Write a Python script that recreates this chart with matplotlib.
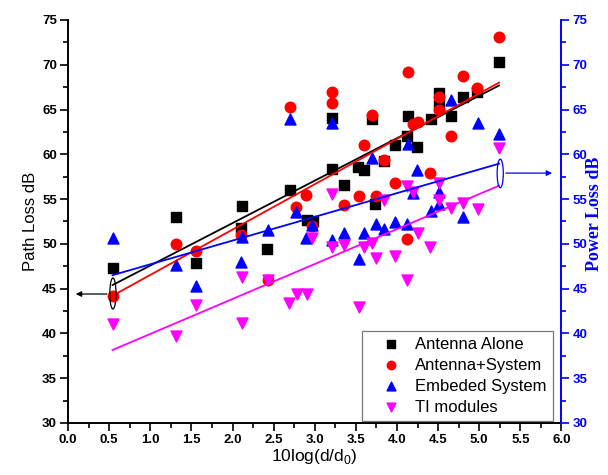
import matplotlib
matplotlib.use("Agg")
import matplotlib.pyplot as plt
from matplotlib.patches import Ellipse
from matplotlib.ticker import MultipleLocator
import numpy as np

plt.rcParams['font.family'] = ['Liberation Sans', 'DejaVu Sans']
plt.rcParams['mathtext.fontset'] = 'custom'
plt.rcParams['mathtext.rm'] = 'Liberation Sans'

# ---- measured data: x = 10log(d/d0), y = loss in dB ----
antenna_x = [0.54, 1.31, 1.55, 2.12, 2.10, 2.42, 2.70, 2.90, 2.98, 3.21, 3.21, 3.35, 3.53, 3.60,
             3.69, 3.73, 3.84, 3.97, 4.12, 4.13, 4.24, 4.41, 4.51, 4.51, 4.66, 4.80, 4.97, 5.24]
antenna_y = [47.3, 53.0, 47.9, 54.2, 51.8, 49.4, 56.0, 52.7, 52.5, 64.0, 58.4, 56.6, 58.6, 58.3,
             63.9, 54.5, 59.2, 61.0, 62.0, 64.3, 60.8, 63.9, 66.8, 65.5, 64.3, 66.4, 66.9, 70.35]

antsys_x = [0.54, 1.31, 1.55, 2.10, 2.43, 2.70, 2.77, 2.89, 2.97, 3.21, 3.21, 3.35, 3.54, 3.60,
            3.69, 3.74, 3.84, 3.97, 4.12, 4.13, 4.19, 4.25, 4.40, 4.51, 4.51, 4.66, 4.80, 4.97, 5.24]
antsys_y = [44.2, 50.0, 49.2, 51.0, 46.0, 65.3, 54.1, 55.4, 52.0, 67.0, 65.7, 54.3, 55.3, 61.0,
            64.4, 55.3, 59.4, 56.8, 50.5, 69.2, 63.4, 63.6, 57.9, 66.4, 64.9, 62.0, 68.7, 67.4, 73.1]

embed_x = [0.54, 1.31, 1.55, 2.10, 2.12, 2.43, 2.70, 2.77, 2.89, 2.97, 3.21, 3.21, 3.35, 3.54, 3.60,
           3.69, 3.74, 3.84, 3.97, 4.12, 4.13, 4.19, 4.24, 4.41, 4.51, 4.51, 4.66, 4.80, 4.98, 5.24]
embed_y = [50.7, 47.6, 45.3, 48.0, 50.8, 51.55, 63.9, 53.6, 50.7, 52.1, 63.5, 50.4, 51.2, 48.3, 51.25,
           59.55, 52.2, 51.7, 52.4, 52.2, 61.2, 55.65, 58.3, 53.7, 54.5, 55.8, 66.1, 53.0, 63.5, 62.3]

ti_x = [0.54, 1.31, 1.55, 2.12, 2.12, 2.43, 2.69, 2.78, 2.90, 2.97, 3.21, 3.21, 3.35, 3.54, 3.60,
        3.69, 3.74, 3.84, 3.97, 4.12, 4.12, 4.19, 4.25, 4.40, 4.51, 4.51, 4.66, 4.80, 4.98, 5.24]
ti_y = [41.0, 39.75, 43.2, 46.3, 41.2, 46.0, 43.4, 44.4, 44.4, 50.6, 49.7, 55.6, 49.9, 43.0, 49.7,
        50.1, 48.4, 54.9, 48.6, 46.0, 56.5, 55.8, 51.2, 49.7, 56.8, 54.9, 54.0, 54.6, 53.85, 60.7]

# linear fits (slope, intercept) for each series
fit_antenna = (4.74, 42.84)
fit_antsys = (5.064, 41.47)
fit_embed = (2.649, 45.07)
fit_ti = (3.904, 36.04)

labels = ['Antenna Alone', 'Antenna+System', 'Embeded System', 'TI modules']

fig = plt.figure(figsize=(6.08, 4.75), dpi=100)
ax = fig.add_axes([0.112, 0.1095, 0.8115, 0.8485])
ax2 = ax.twinx()

ax.set_xlim(0, 6)
ax.set_ylim(30, 75)
ax2.set_ylim(30, 75)

ms = 48
ax.scatter(antenna_x, antenna_y, marker='s', s=ms * 0.95, color='black', zorder=3, label=labels[0])
ax.scatter(antsys_x, antsys_y, marker='o', s=ms * 1.2, color='red', zorder=3, label=labels[1])
ax.scatter(embed_x, embed_y, marker='^', s=ms * 1.3, color='blue', zorder=3, label=labels[2])
ax.scatter(ti_x, ti_y, marker='v', s=ms * 1.3, color='magenta', zorder=3, label=labels[3])

for (xs, fit, col) in [(antenna_x, fit_antenna, 'black'), (antsys_x, fit_antsys, 'red'),
                       (embed_x, fit_embed, 'blue'), (ti_x, fit_ti, 'magenta')]:
    xr = np.array([min(xs), max(xs)])
    ax.plot(xr, fit[0] * xr + fit[1], color=col, lw=1.3, zorder=4)

# ellipses marking the fit ends, with arrows pointing to their axes
x0 = min(antenna_x)
ax.add_patch(Ellipse((x0 + 0.005, 44.46), 0.075, 3.46, fill=False, ec='black', lw=0.9, zorder=5))
ax.annotate('', xy=(0.06, 44.4), xytext=(x0 - 0.035, 44.4),
            arrowprops=dict(arrowstyle='-|>', color='black', lw=0.9, mutation_scale=8), zorder=5)
x1 = max(embed_x)
ax.add_patch(Ellipse((x1 + 0.015, 57.86), 0.075, 3.2, fill=False, ec='blue', lw=0.9, zorder=5))
ax.annotate('', xy=(5.92, 57.9), xytext=(x1 + 0.05, 57.9),
            arrowprops=dict(arrowstyle='-|>', color='blue', lw=0.9, mutation_scale=8), zorder=5)

# axes styling
ax.spines['top'].set_visible(False)
ax2.spines['top'].set_visible(False)
ax.spines['right'].set_visible(False)
ax2.spines['left'].set_visible(False)
ax2.spines['bottom'].set_visible(False)
for s in ['left', 'bottom']:
    ax.spines[s].set_linewidth(1.4)
ax2.spines['right'].set_linewidth(1.4)
ax2.spines['right'].set_color('blue')

ax.xaxis.set_major_locator(MultipleLocator(0.5))
ax.xaxis.set_minor_locator(MultipleLocator(0.25))
ax.yaxis.set_major_locator(MultipleLocator(5))
ax.yaxis.set_minor_locator(MultipleLocator(2.5))
ax2.yaxis.set_major_locator(MultipleLocator(5))
ax2.yaxis.set_minor_locator(MultipleLocator(2.5))

ax.tick_params(axis='both', which='major', direction='out', length=6, width=1.2, labelsize=9.5, pad=2)
ax.tick_params(axis='both', which='minor', direction='out', length=3.5, width=1.2)
ax.tick_params(axis='y', which='both', right=False)
ax2.tick_params(axis='y', which='major', direction='out', length=6, width=1.2, labelsize=9.5,
                colors='blue', pad=2)
ax2.tick_params(axis='y', which='minor', direction='out', length=3.5, width=1.2, colors='blue')

ax.set_xticklabels([f'{v:.1f}' for v in ax.get_xticks()])
for lab in ax.get_xticklabels() + ax.get_yticklabels():
    lab.set_fontweight('bold')
for lab in ax2.get_yticklabels():
    lab.set_fontweight('bold')
    lab.set_color('blue')

ax.set_xlabel('10log(d/d$_\\mathregular{0}$)', fontsize=12.5, labelpad=1)
ax.set_ylabel('Path Loss dB', fontsize=12, labelpad=3)
ax2.set_ylabel('Power Loss dB', fontsize=13, color='blue', fontweight='bold',
               family=['Liberation Serif', 'DejaVu Serif'])
ax2.yaxis.set_label_coords(1.05, 0.52)

leg = ax.legend(loc='lower right', bbox_to_anchor=(0.982, 0.006), fontsize=12, frameon=True,
                fancybox=False, edgecolor='#555555', borderpad=0.35, labelspacing=0.36,
                handletextpad=0.05, borderaxespad=0.0, scatterpoints=1, markerscale=0.8,
                handlelength=2.8)
leg.get_frame().set_linewidth(0.9)
leg.set_zorder(10)

fig.savefig('out.png', dpi=100)
